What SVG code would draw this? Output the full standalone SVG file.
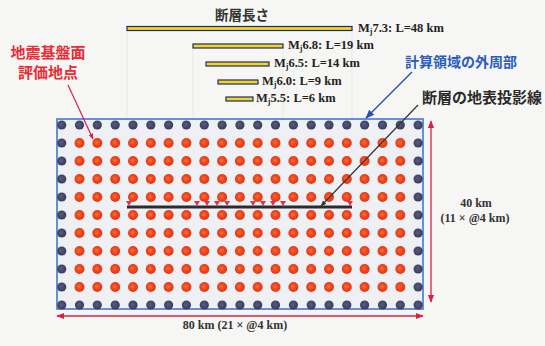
<svg xmlns="http://www.w3.org/2000/svg" width="545" height="346" viewBox="0 0 545 346">
<defs>
<style>
.jp{font-family:"Noto Sans CJK JP","Noto Sans",sans-serif;font-weight:bold;}
.lbl{font-family:"Liberation Serif","DejaVu Serif",serif;font-weight:bold;font-size:12.5px;fill:#222;}
.dim{font-family:"Liberation Serif","DejaVu Serif",serif;font-weight:bold;font-size:12px;fill:#333;}
.bar{fill:#f3d61e;stroke:#1c2a6e;stroke-width:1.2;}
.guide{stroke:#e8e8e8;stroke-width:1;fill:none;}
.nd{fill:url(#gb);}
.rd{fill:url(#gr);}
</style>
<radialGradient id="gr" cx="0.45" cy="0.45" r="0.6">
<stop offset="0" stop-color="#f5782a"/>
<stop offset="0.5" stop-color="#f0421e"/>
<stop offset="1" stop-color="#e2321c"/>
</radialGradient>
<radialGradient id="gb" cx="0.45" cy="0.45" r="0.6">
<stop offset="0" stop-color="#585d7c"/>
<stop offset="1" stop-color="#33375a"/>
</radialGradient>
<marker id="ar" viewBox="0 0 10 10" refX="9" refY="5" markerWidth="6" markerHeight="6" orient="auto-start-reverse">
<path d="M0,1 L10,5 L0,9 z" fill="#d8204a"/>
</marker>
<marker id="ab" viewBox="0 0 10 10" refX="9" refY="5" markerWidth="6" markerHeight="6" orient="auto">
<path d="M0,1 L10,5 L0,9 z" fill="#2a4fb0"/>
</marker>
<marker id="ak" viewBox="0 0 10 10" refX="9" refY="5" markerWidth="5" markerHeight="5" orient="auto">
<path d="M0,1 L10,5 L0,9 z" fill="#333"/>
</marker>
<marker id="arr" viewBox="0 0 10 10" refX="9" refY="5" markerWidth="5" markerHeight="5" orient="auto">
<path d="M0,1 L10,5 L0,9 z" fill="#d8204a"/>
</marker>
<symbol id="tri" overflow="visible"><path d="M-3,-5 L3,-5 L0,0 z" fill="#e0305a"/></symbol>
</defs>
<rect width="545" height="346" fill="#f6f6f4"/>

<g id="legend">
<path class="guide" d="M127,31 V118 M352,31 V118 M193,48 V118 M283,48 V118"/>
<text class="jp" x="242" y="20" font-size="13.5" text-anchor="middle" fill="#333">断層長さ</text>
<rect class="bar" x="127" y="26.5" width="225" height="4"/>
<text class="lbl" x="358" y="32">M<tspan font-size="8" dy="2">j</tspan><tspan dy="-2">7.3: L=48 km</tspan></text>
<rect class="bar" x="193" y="44" width="90" height="4"/>
<text class="lbl" x="288" y="49">M<tspan font-size="8" dy="2">j</tspan><tspan dy="-2">6.8: L=19 km</tspan></text>
<rect class="bar" x="206" y="62" width="63" height="4"/>
<text class="lbl" x="274" y="67">M<tspan font-size="8" dy="2">j</tspan><tspan dy="-2">6.5: L=14 km</tspan></text>
<rect class="bar" x="218" y="80" width="40" height="4"/>
<text class="lbl" x="262" y="85">M<tspan font-size="8" dy="2">j</tspan><tspan dy="-2">6.0: L=9 km</tspan></text>
<rect class="bar" x="226" y="97" width="27" height="4"/>
<text class="lbl" x="256" y="102">M<tspan font-size="8" dy="2">j</tspan><tspan dy="-2">5.5: L=6 km</tspan></text>
</g>

<g id="domain">
<rect x="57" y="119" width="366" height="190" fill="#eef0f3" stroke="#3a6fd0" stroke-width="1.5"/>
</g>

<g id="grid">
<g id="outer">
<circle class="nd" cx="61.7" cy="125" r="4.6"/><circle class="nd" cx="79.5" cy="125" r="4.6"/><circle class="nd" cx="97.3" cy="125" r="4.6"/><circle class="nd" cx="115.2" cy="125" r="4.6"/><circle class="nd" cx="133" cy="125" r="4.6"/><circle class="nd" cx="150.8" cy="125" r="4.6"/><circle class="nd" cx="168.6" cy="125" r="4.6"/><circle class="nd" cx="186.4" cy="125" r="4.6"/><circle class="nd" cx="204.3" cy="125" r="4.6"/><circle class="nd" cx="222.1" cy="125" r="4.6"/><circle class="nd" cx="239.9" cy="125" r="4.6"/><circle class="nd" cx="257.7" cy="125" r="4.6"/><circle class="nd" cx="275.5" cy="125" r="4.6"/><circle class="nd" cx="293.4" cy="125" r="4.6"/><circle class="nd" cx="311.2" cy="125" r="4.6"/><circle class="nd" cx="329" cy="125" r="4.6"/><circle class="nd" cx="346.8" cy="125" r="4.6"/><circle class="nd" cx="364.6" cy="125" r="4.6"/><circle class="nd" cx="382.5" cy="125" r="4.6"/><circle class="nd" cx="400.3" cy="125" r="4.6"/><circle class="nd" cx="418.1" cy="125" r="4.6"/>
<circle class="nd" cx="61.7" cy="305" r="4.6"/><circle class="nd" cx="79.5" cy="305" r="4.6"/><circle class="nd" cx="97.3" cy="305" r="4.6"/><circle class="nd" cx="115.2" cy="305" r="4.6"/><circle class="nd" cx="133" cy="305" r="4.6"/><circle class="nd" cx="150.8" cy="305" r="4.6"/><circle class="nd" cx="168.6" cy="305" r="4.6"/><circle class="nd" cx="186.4" cy="305" r="4.6"/><circle class="nd" cx="204.3" cy="305" r="4.6"/><circle class="nd" cx="222.1" cy="305" r="4.6"/><circle class="nd" cx="239.9" cy="305" r="4.6"/><circle class="nd" cx="257.7" cy="305" r="4.6"/><circle class="nd" cx="275.5" cy="305" r="4.6"/><circle class="nd" cx="293.4" cy="305" r="4.6"/><circle class="nd" cx="311.2" cy="305" r="4.6"/><circle class="nd" cx="329" cy="305" r="4.6"/><circle class="nd" cx="346.8" cy="305" r="4.6"/><circle class="nd" cx="364.6" cy="305" r="4.6"/><circle class="nd" cx="382.5" cy="305" r="4.6"/><circle class="nd" cx="400.3" cy="305" r="4.6"/><circle class="nd" cx="418.1" cy="305" r="4.6"/>
<circle class="nd" cx="61.7" cy="143" r="4.6"/><circle class="nd" cx="61.7" cy="161" r="4.6"/><circle class="nd" cx="61.7" cy="179" r="4.6"/><circle class="nd" cx="61.7" cy="197" r="4.6"/><circle class="nd" cx="61.7" cy="215" r="4.6"/><circle class="nd" cx="61.7" cy="233" r="4.6"/><circle class="nd" cx="61.7" cy="251" r="4.6"/><circle class="nd" cx="61.7" cy="269" r="4.6"/><circle class="nd" cx="61.7" cy="287" r="4.6"/>
<circle class="nd" cx="418.1" cy="143" r="4.6"/><circle class="nd" cx="418.1" cy="161" r="4.6"/><circle class="nd" cx="418.1" cy="179" r="4.6"/><circle class="nd" cx="418.1" cy="197" r="4.6"/><circle class="nd" cx="418.1" cy="215" r="4.6"/><circle class="nd" cx="418.1" cy="233" r="4.6"/><circle class="nd" cx="418.1" cy="251" r="4.6"/><circle class="nd" cx="418.1" cy="269" r="4.6"/><circle class="nd" cx="418.1" cy="287" r="4.6"/>
</g>
<g id="inner">
<g id="r1">
<circle class="rd" cx="79.5" cy="143" r="5"/><circle class="rd" cx="97.3" cy="143" r="5"/><circle class="rd" cx="115.2" cy="143" r="5"/><circle class="rd" cx="133" cy="143" r="5"/><circle class="rd" cx="150.8" cy="143" r="5"/><circle class="rd" cx="168.6" cy="143" r="5"/><circle class="rd" cx="186.4" cy="143" r="5"/><circle class="rd" cx="204.3" cy="143" r="5"/><circle class="rd" cx="222.1" cy="143" r="5"/><circle class="rd" cx="239.9" cy="143" r="5"/><circle class="rd" cx="257.7" cy="143" r="5"/><circle class="rd" cx="275.5" cy="143" r="5"/><circle class="rd" cx="293.4" cy="143" r="5"/><circle class="rd" cx="311.2" cy="143" r="5"/><circle class="rd" cx="329" cy="143" r="5"/><circle class="rd" cx="346.8" cy="143" r="5"/><circle class="rd" cx="364.6" cy="143" r="5"/><circle class="rd" cx="382.5" cy="143" r="5"/><circle class="rd" cx="400.3" cy="143" r="5"/>
</g>
<use href="#r1" y="18"/><use href="#r1" y="36"/><use href="#r1" y="54"/><use href="#r1" y="72"/><use href="#r1" y="90"/><use href="#r1" y="108"/><use href="#r1" y="126"/><use href="#r1" y="144"/>
</g>
</g>

<g id="fault">
<line x1="127" y1="207" x2="352" y2="207" stroke="#2b2b2b" stroke-width="3"/>
<use href="#tri" x="129" y="206"/>
<use href="#tri" x="197" y="206"/><use href="#tri" x="207" y="206"/><use href="#tri" x="217" y="206"/><use href="#tri" x="227" y="206"/>
<use href="#tri" x="253" y="206"/><use href="#tri" x="263" y="206"/><use href="#tri" x="273" y="206"/><use href="#tri" x="283" y="206"/>
<use href="#tri" x="350" y="206"/>
</g>

<g id="labels">
<text class="jp" x="48" y="58" font-size="15" text-anchor="middle" fill="#ea2b35">地震基盤面</text>
<text class="jp" x="48" y="78" font-size="15" text-anchor="middle" fill="#ea2b35">評価地点</text>
<text class="jp" x="461" y="67" font-size="14" text-anchor="middle" fill="#2a5cc0">計算領域の外周部</text>
<text class="jp" x="482" y="103" font-size="15" text-anchor="middle" fill="#2a2a2a">断層の地表投影線</text>
<text class="dim" x="476" y="207" text-anchor="middle">40 km</text>
<text class="dim" x="475" y="222" text-anchor="middle">(11 × @4 km)</text>
<text class="dim" x="235" y="329" text-anchor="middle">80 km  (21 × @4 km)</text>
</g>

<g id="connectors">
<line x1="68" y1="85" x2="93" y2="139" stroke="#d8204a" stroke-width="1.2" marker-end="url(#arr)"/>
<line x1="412" y1="72" x2="366" y2="118" stroke="#2a4fb0" stroke-width="1.5" marker-end="url(#ab)"/>
<line x1="418" y1="105" x2="321" y2="206" stroke="#333" stroke-width="1.2" marker-end="url(#ak)"/>
<line x1="431" y1="121" x2="431" y2="302" stroke="#d8204a" stroke-width="1.3" marker-start="url(#ar)" marker-end="url(#ar)"/>
<line x1="57" y1="316" x2="423" y2="316" stroke="#d8204a" stroke-width="1.3" marker-start="url(#ar)" marker-end="url(#ar)"/>
</g>
</svg>
